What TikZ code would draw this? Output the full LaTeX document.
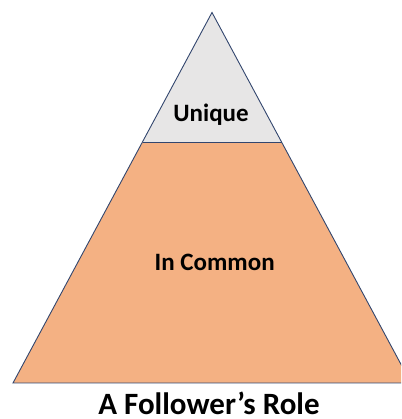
\documentclass[tikz,border=0pt]{standalone}
\usepackage{fontspec}
\setmainfont{Carlito}
\definecolor{toporange}{RGB}{244,177,131}
\definecolor{topgray}{RGB}{231,230,230}
\definecolor{edge}{RGB}{50,70,110}
\begin{document}
\begin{tikzpicture}[x=1pt,y=1pt,
  lbl/.style={font=\bfseries\fontsize{25}{29}\selectfont, text=black, inner sep=0pt, anchor=base},
  ttl/.style={font=\bfseries\fontsize{31}{35}\selectfont, text=black, inner sep=0pt, anchor=base}]
\useasboundingbox (0,0) rectangle (401,419);
\begin{scope}
\clip (0,0) rectangle (401,419);
\coordinate (apex) at (212,406.5);
\coordinate (bl) at (13,36);
\coordinate (br) at (411,36);
\coordinate (dl) at (142.5,277);
\coordinate (dr) at (281.5,277);
\fill[toporange] (dl) -- (bl) -- (br) -- (dr) -- cycle;
\fill[topgray] (apex) -- (dl) -- (dr) -- cycle;
\draw[edge, line width=0.9pt, line join=miter] (apex) -- (bl) -- (br) -- cycle;
\draw[edge, line width=0.9pt] (dl) -- (dr);
\end{scope}
\node[lbl] (unique) at (211,297) {Unique};
\node[lbl] (common) at (214.7,148) {In Common};
\node[ttl] (title) at (209,4.5) {A Follower’s Role};
\end{tikzpicture}
\end{document}
